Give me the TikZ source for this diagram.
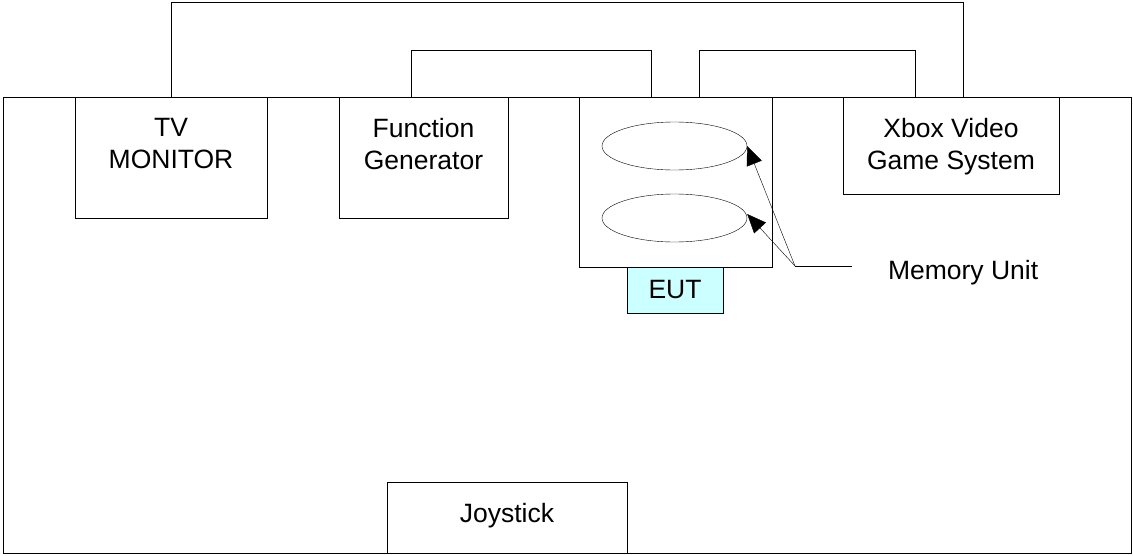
\documentclass[tikz,border=0pt]{standalone}
\usepackage{fontspec}
\setmainfont{Liberation Sans}
\usetikzlibrary{arrows.meta,shapes.geometric,positioning}
\definecolor{eutcyan}{HTML}{CCFFFF}
\tikzset{x=1pt, y=-1pt, % one unit is one pixel, y runs downwards
line width=1.6pt, % thin lines as in the sketch
>={Triangle[length=19pt,width=16pt]}, % big filled heads
unit/.style={draw, rectangle, inner sep=0pt, outer sep=0pt}, % every box on the bench
boxtext/.style={inner sep=0pt, outer sep=0pt, align=center, font=\fontsize{26.5}{32}\selectfont}, % text in the boxes
mem/.style={draw, ellipse, inner sep=0pt, minimum width=145pt, minimum height=48pt}, % memory units
}

\begin{document}
\begin{tikzpicture}
\useasboundingbox (0,0) rectangle (1133,555);
% bench
\node[unit, minimum width=1128pt, minimum height=456pt] (bench) at (567,325) {};
% equipment
\node[unit, minimum width=192pt, minimum height=121pt] (tv) at (171,157.5) {};
\node[unit, minimum width=169pt, minimum height=121pt] (fg) at (423.5,157.5) {};
\node[unit, minimum width=193pt, minimum height=170pt] (eut) at (675.5,182) {};
\node[unit, minimum width=216pt, minimum height=97pt] (xbox) at (951,145.5) {};
\node[unit, fill=eutcyan, minimum width=96pt, minimum height=46pt] (eutlbl) at (675,290) {};
\node[unit, minimum width=240pt, minimum height=71pt] (joy) at (507,517.5) {};
\node[boxtext, below=21pt of tv.north] (tvtxt) {TV\\MONITOR};
\node[boxtext, below=21pt of fg.north] (fgtxt) {Function\\Generator};
\node[boxtext, below=21pt of xbox.north] (xboxtxt) {Xbox Video\\Game System};
\node[boxtext] (euttxt) at (eutlbl) {EUT};
\node[boxtext, below=21pt of joy.north] (joytxt) {Joystick};
% memory units
\node[mem] (mu1) at (674.5,146) {};
\node[mem] (mu2) at (674.5,218) {};
\coordinate (mu) at (795,266);
\coordinate (mul) at (852,266);
\node[boxtext, anchor=base west] (mutxt) at (888,279) {Memory Unit};
\draw (mul) -- (mu);
\draw[->] (mu) -- (mu1.east);
\draw[->] (mu) -- ([yshift=4pt]mu2.east);
% cables
\draw (tv.north) -- (tv.north |- 0,2) -| ([xshift=12pt]xbox.north);
\draw ([xshift=-12.5pt]fg.north) -- ++(0,-47) -| ([xshift=-24.5pt]eut.north);
\draw ([xshift=23.5pt]eut.north) -- ++(0,-47) -| ([xshift=-36pt]xbox.north);
\end{tikzpicture}
\end{document}
